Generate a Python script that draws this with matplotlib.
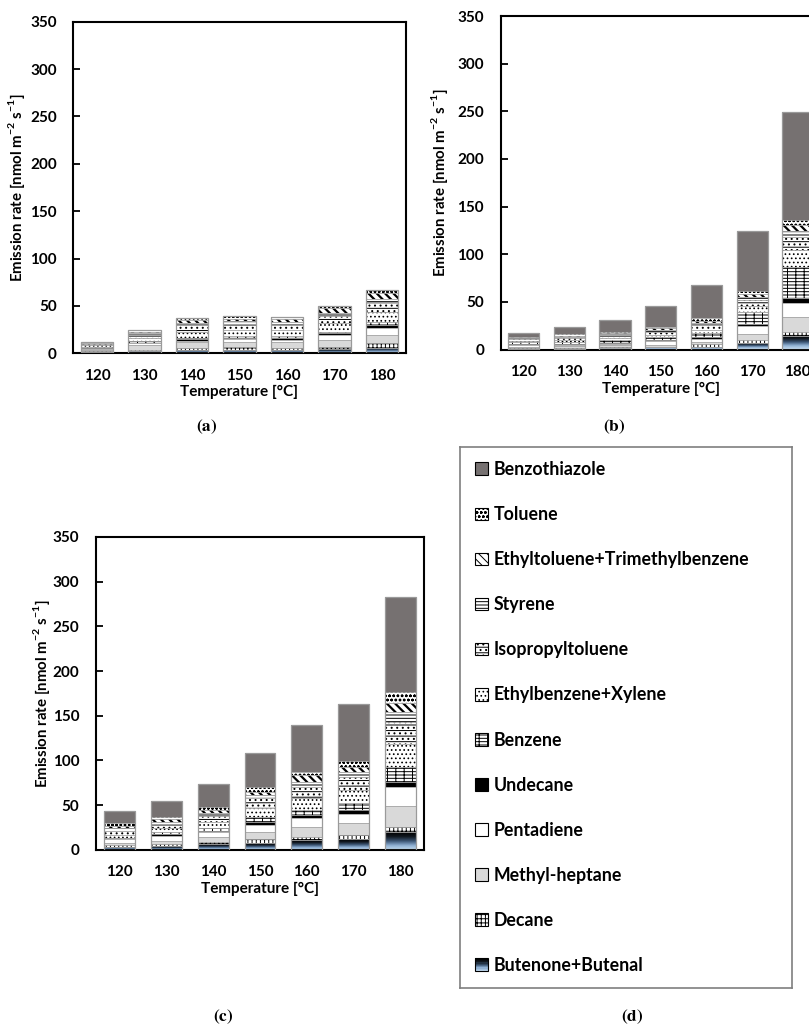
import numpy as np
import matplotlib.pyplot as plt
from matplotlib.patches import Patch, Rectangle
from matplotlib.colors import LinearSegmentedColormap
from matplotlib.legend_handler import HandlerBase

plt.rcParams['font.family'] = ['Lato', 'DejaVu Sans']
plt.rcParams['font.weight'] = 'bold'
plt.rcParams['axes.labelweight'] = 'bold'
plt.rcParams['mathtext.fontset'] = 'custom'
plt.rcParams['mathtext.rm'] = 'Lato:bold'
plt.rcParams['mathtext.bf'] = 'Lato:bold'
plt.rcParams['hatch.linewidth'] = 0.7

temps = ['120', '130', '140', '150', '160', '170', '180']
compounds = ['Butenone+Butenal', 'Decane', 'Methyl-heptane', 'Pentadiene',
             'Undecane', 'Benzene', 'Ethylbenzene+Xylene', 'Isopropyltoluene',
             'Styrene', 'Ethyltoluene+Trimethylbenzene', 'Toluene',
             'Benzothiazole']

# emission rates, one row per compound (same order as compounds, bottom of stack first)
rates_a = [
    [1.2, 2.5, 3.5, 3.6, 3.5, 4.2, 5.3],
    [0.8, 1.5, 2.0, 2.8, 2.6, 2.8, 5.3],
    [1.5, 5.0, 6.5, 6.0, 5.5, 7.0, 8.7],
    [1.5, 1.5, 1.5, 2.2, 2.6, 5.3, 7.1],
    [0.8, 0.8, 1.5, 1.8, 1.8, 1.8, 3.4],
    [1.0, 1.3, 1.5, 2.2, 2.2, 1.7, 3.5],
    [1.5, 3.5, 6.5, 6.5, 6.0, 8.9, 10.5],
    [1.5, 3.5, 6.5, 6.0, 6.0, 7.7, 10.5],
    [0.8, 1.5, 2.4, 2.5, 2.5, 2.8, 3.5],
    [0.8, 1.5, 3.0, 3.0, 3.0, 5.3, 6.0],
    [0.7, 2.2, 2.0, 2.8, 3.0, 2.4, 3.5],
    [0.0, 0.0, 0.0, 0.0, 0.0, 0.0, 0.0],
]
rates_b = [
    [1.0, 1.0, 1.5, 2.1, 2.9, 6.5, 14.2],
    [0.8, 1.0, 1.2, 1.0, 2.9, 3.5, 4.5],
    [1.0, 1.5, 1.5, 1.8, 2.4, 5.9, 15.7],
    [2.0, 1.5, 2.0, 3.5, 2.8, 8.8, 14.1],
    [0.8, 0.8, 1.0, 1.6, 1.8, 2.1, 5.2],
    [2.5, 2.5, 3.0, 3.5, 4.2, 12.9, 33.2],
    [1.2, 1.5, 2.0, 1.8, 3.5, 5.9, 17.5],
    [1.5, 2.2, 2.5, 3.5, 5.2, 6.4, 14.0],
    [1.0, 1.4, 1.5, 1.7, 2.4, 2.8, 6.3],
    [0.8, 1.2, 1.2, 1.7, 2.1, 3.1, 5.9],
    [0.9, 1.3, 1.3, 1.8, 2.5, 3.8, 5.3],
    [4.1, 7.7, 12.3, 21.6, 35.0, 62.6, 113.3],
]
rates_c = [
    [3.4, 4.1, 6.4, 7.8, 10.9, 11.6, 19.5],
    [1.5, 2.3, 2.6, 3.8, 3.7, 4.9, 6.3],
    [2.2, 3.7, 4.9, 8.6, 11.2, 13.1, 23.5],
    [4.5, 5.6, 5.6, 7.5, 9.4, 10.4, 20.6],
    [1.0, 1.9, 1.8, 3.7, 3.7, 4.5, 6.3],
    [1.0, 2.6, 2.7, 4.9, 5.6, 7.5, 16.1],
    [3.0, 3.8, 7.4, 10.1, 13.1, 14.9, 26.0],
    [4.5, 4.8, 6.3, 11.2, 13.0, 14.8, 25.0],
    [3.0, 2.6, 3.7, 3.7, 5.6, 5.6, 11.2],
    [2.5, 2.6, 3.1, 3.7, 7.4, 5.6, 10.1],
    [3.1, 3.0, 3.7, 4.9, 3.7, 6.8, 11.4],
    [13.7, 17.5, 25.4, 38.7, 52.4, 63.5, 107.2],
]

faces = ['none', 'white', '#d9d9d9', 'white', 'black', 'white', 'white',
         'white', 'white', 'white', 'white', '#767171']
hatches = [None, '++++', None, None, None, '++---', '....', '---...', '-----',
           '\\\\\\\\', 'oooo', None]
hatch_lw = [0.7, 0.7, 0.7, 0.7, 0.7, 0.7, 0.7, 0.7, 0.7, 1.6, 0.7, 0.7]
grad = LinearSegmentedColormap.from_list(
    'butenone', ['#c6ddf2', '#8fb0d3', '#3c5675', '#111820', '#000000'])

W, H = 809, 1027


def px_axes(left, top, right, bottom):
    return [left / W, 1 - bottom / H, (right - left) / W, (bottom - top) / H]


def thick_hatch(patches, lw):
    for p in patches:
        if hasattr(p, 'set_hatch_linewidth'):
            p.set_hatch_linewidth(lw)


def stacked(ax, rates, width):
    x = np.arange(len(temps))
    bottom = np.zeros(len(temps))
    for i, vals in enumerate(rates):
        vals = np.array(vals)
        mask = vals > 0
        if i == 0:
            for xi, v, b in zip(x, vals, bottom):
                ax.imshow(np.linspace(0, 1, 64).reshape(-1, 1), cmap=grad,
                          origin='lower', aspect='auto', zorder=2,
                          extent=[xi - width / 2, xi + width / 2, b, b + v])
        else:
            bars = ax.bar(x[mask], vals[mask], width, bottom=bottom[mask],
                          color=faces[i], hatch=hatches[i], edgecolor='black',
                          linewidth=0, zorder=2)
            thick_hatch(bars, hatch_lw[i])
        ax.bar(x[mask], vals[mask], width, bottom=bottom[mask], fill=False,
               edgecolor='#a6a6a6', linewidth=0.45, zorder=3)
        bottom += vals
    # light frame around each whole stack
    ax.bar(x, bottom, width, fill=False, edgecolor='#9a9a9a', linewidth=0.9,
           zorder=4)
    ax.set_xlim(-0.5, len(temps) - 0.5)
    ax.set_ylim(0, 350)
    ax.set_yticks(range(0, 351, 50))
    ax.set_xticks(x)
    ax.set_xticklabels(temps)
    ax.tick_params(axis='y', direction='in', length=5, width=1.3, pad=12,
                   labelsize=11)
    ax.tick_params(axis='x', length=0, pad=11, labelsize=11)
    for s in ax.spines.values():
        s.set_linewidth(1.5)
    ax.set_xlabel('Temperature [°C]', fontsize=11, labelpad=2)
    ax.set_ylabel(r'Emission rate [nmol m$^{\mathbf{-2}}$ s$^{\mathbf{-1}}$]',
                  fontsize=10.8)


fig = plt.figure(figsize=(W / 100, H / 100), dpi=100)

ax_a = fig.add_axes(px_axes(73.3, 21.7, 405.7, 353.3))
stacked(ax_a, rates_a, 0.68)
ax_a.yaxis.set_label_coords(-0.139, 0.5)

ax_b = fig.add_axes(px_axes(500.7, 16, 820.7, 349.5))
stacked(ax_b, rates_b, 0.68)
ax_b.yaxis.set_label_coords(-0.158, 0.5)

ax_c = fig.add_axes(px_axes(96, 537, 424, 849.7))
stacked(ax_c, rates_c, 0.66)
ax_c.yaxis.set_label_coords(-0.134, 0.5)


class GradientHandler(HandlerBase):
    def create_artists(self, legend, orig_handle, xdescent, ydescent,
                       width, height, fontsize, trans):
        n = 10
        arts = [Rectangle((-xdescent, -ydescent + k * height / n), width,
                          height / n, facecolor=grad((k + 0.5) / n),
                          edgecolor='none', transform=trans)
                for k in range(n)]
        arts.append(Rectangle((-xdescent, -ydescent), width, height,
                              fill=False, edgecolor='black', linewidth=0.8,
                              transform=trans))
        return arts


# legend panel (d)
ax_d = fig.add_axes(px_axes(460, 447, 792, 988))
ax_d.set_xticks([])
ax_d.set_yticks([])
for s in ax_d.spines.values():
    s.set_color('#7f7f7f')
    s.set_linewidth(1.2)

handles = []
for i, name in enumerate(compounds):
    if i == 0:
        handles.append(Patch(facecolor='#5a7898', edgecolor='black'))
    else:
        h = Patch(facecolor=faces[i], hatch=hatches[i], edgecolor='black',
                  linewidth=0.8)
        thick_hatch([h], hatch_lw[i])
        handles.append(h)
ax_d.legend(handles[::-1], compounds[::-1], loc='center left',
            bbox_to_anchor=(0.045, 0.5), frameon=False, fontsize=12.8,
            handlelength=0.72, handleheight=0.72, handletextpad=0.35,
            labelspacing=1.58, borderpad=0, borderaxespad=0,
            handler_map={handles[0]: GradientHandler()})

for lab, x, y in [('a', 207, 427), ('b', 614, 427), ('c', 223, 1017),
                  ('d', 632, 1017)]:
    fig.text(x / W, 1 - y / H, r'$(\mathbf{%s})$' % lab, ha='center',
             va='center', fontsize=12.5, math_fontfamily='stix')

fig.savefig('out.png', dpi=100)
